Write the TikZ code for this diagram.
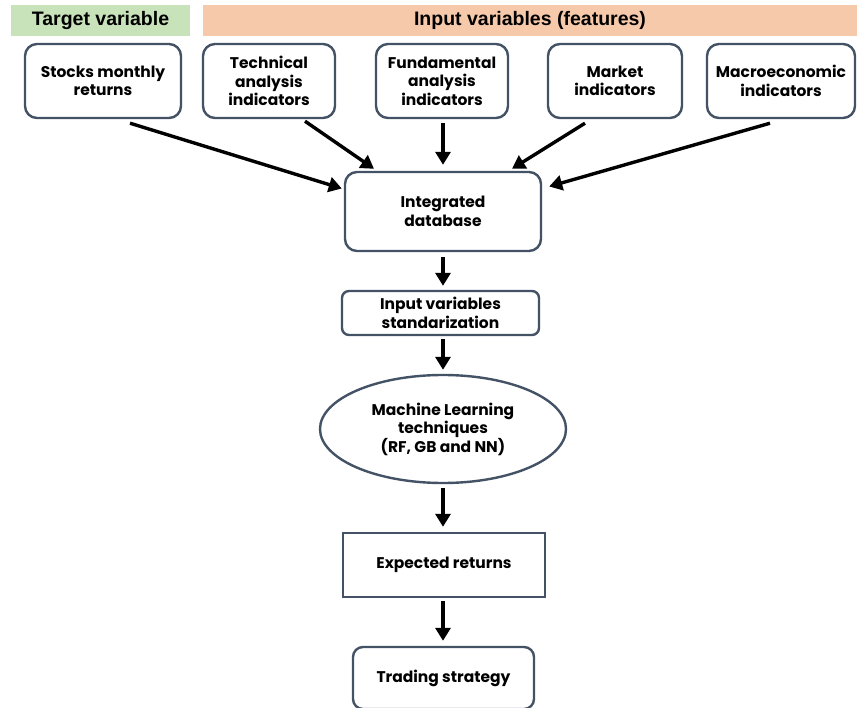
\documentclass[tikz,border=0pt]{standalone}
\usepackage{fontspec}
\setmainfont{Poppins}
\newfontfamily\headfont{Liberation Sans}
\usetikzlibrary{shapes.geometric,arrows.meta}

\definecolor{boxline}{RGB}{68,82,102}
\definecolor{targetgreen}{RGB}{200,226,186}
\definecolor{inputorange}{RGB}{247,201,171}

\tikzset{
	band/.style={inner sep=0pt, font=\headfont\fontsize{19.5}{22}\selectfont\bfseries},
	roundbox/.style={draw=boxline, line width=2.4pt, rounded corners=12pt, align=center,
		font=\fontsize{15.5}{18.5}\selectfont\bfseries, inner sep=2pt},
	flow/.style={line width=3.4pt, -{Triangle[length=13pt,width=15pt]}}
}

\begin{document}
\begin{tikzpicture}[x=1pt,y=-1pt]

	\useasboundingbox (0,0) rectangle (857,708);

	% header bands
	\node[band, fill=targetgreen, minimum width=179pt, minimum height=31pt] (target) at (100.5,20.5) {Target variable};
	\node[band, fill=inputorange, minimum width=654pt, minimum height=31pt] (inputs) at (530,20.5) {Input variables (features)};

	% sources
	\node[roundbox, minimum width=156pt, minimum height=74pt] (stocks) at (103,81) {Stocks monthly\\returns};
	\node[roundbox, minimum width=132pt, minimum height=74pt] (tech) at (269,81) {Technical\\analysis\\indicators};
	\node[roundbox, minimum width=132pt, minimum height=74pt] (fund) at (442,81) {Fundamental\\analysis\\indicators};
	\node[roundbox, minimum width=134pt, minimum height=74pt] (market) at (615,81) {Market\\indicators};
	\node[roundbox, minimum width=148pt, minimum height=74pt] (macro) at (781,81) {Macroeconomic\\indicators};

	% pipeline
	\node[roundbox, minimum width=196pt, minimum height=79pt] (idb) at (443,211.5) {Integrated\\database};
	\node[roundbox, rounded corners=7pt, minimum width=197pt, minimum height=44pt] (std) at (440.5,313) {Input variables\\standarization};
	\node[roundbox, ellipse, inner sep=0pt, minimum width=246pt, minimum height=108pt] (ml) at (443,429) {Machine Learning\\techniques\\(RF, GB and NN)};
	\node[roundbox, rounded corners=0pt, minimum width=202pt, minimum height=64pt] (expret) at (444,565) {Expected returns};
	\node[roundbox, rounded corners=10pt, minimum width=181pt, minimum height=62pt] (trading) at (443.5,678) {Trading strategy};

	\draw[flow] ([xshift=27pt,yshift=-4pt]stocks.south) -- ([xshift=-2pt,yshift=23pt]idb.west);
	\draw[flow] ([xshift=36pt,yshift=-2pt]tech.south) -- ([xshift=-69pt,yshift=2pt]idb.north);
	\draw[flow] ([xshift=1pt,yshift=-4pt]fund.south) -- ([yshift=6pt]idb.north);
	\draw[flow] ([xshift=-30pt,yshift=-4pt]market.south) -- ([xshift=69pt,yshift=2pt]idb.north);
	\draw[flow] ([xshift=-11pt,yshift=-4pt]macro.south) -- ([xshift=7pt,yshift=25pt]idb.east);
	\draw[flow] ([yshift=-5pt]idb.south) -- ([xshift=2.5pt,yshift=4pt]std.north);
	\draw[flow] ([xshift=2.5pt,yshift=-3pt]std.south) -- ([yshift=4pt]ml.north);
	\draw[flow] ([yshift=-4pt]ml.south) -- ([xshift=-1pt,yshift=5pt]expret.north);
	\draw[flow] ([xshift=-1pt,yshift=-3pt]expret.south) -- ([xshift=-0.5pt,yshift=5pt]trading.north);

\end{tikzpicture}
\end{document}
